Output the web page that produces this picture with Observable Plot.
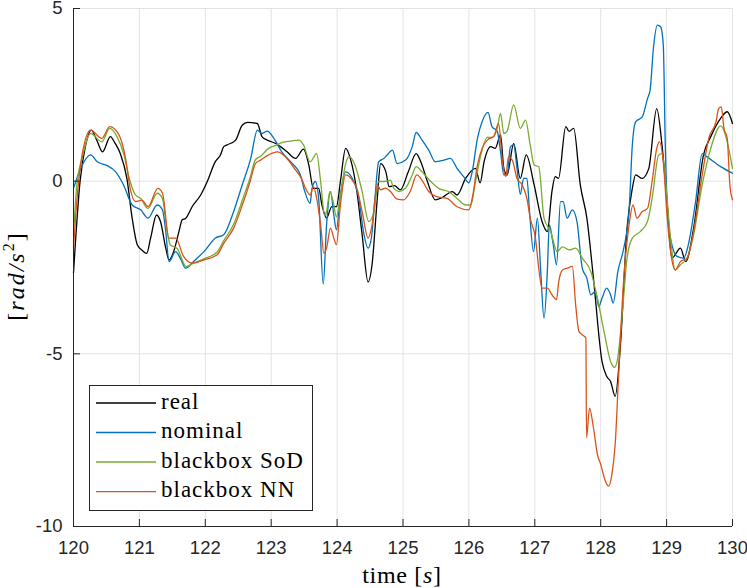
<!DOCTYPE html>
<html><head><meta charset="utf-8">
<script src="https://cdn.jsdelivr.net/npm/d3@7"></script>
<script src="https://cdn.jsdelivr.net/npm/@observablehq/plot@0.6"></script>
<style>
html,body{margin:0;padding:0;background:#fff;}
#wrap{width:747px;height:588px;}
.serif{font-family:"Liberation Serif","Times New Roman",serif !important;}
</style></head><body><div id="wrap"></div>
<script>
const xTicks = [120,121,122,123,124,125,126,127,128,129,130];
const yTicks = [-10,-5,0,5];
const seriesNames = ["real","nominal","blackbox SoD","blackbox NN"];
const seriesColors = ["#000000","#0072BD","#77AC30","#D95319"];

const tReal = [120.00,120.10,120.18,120.27,120.35,120.44,120.56,120.63,120.71,120.81,120.89,120.97,121.04,121.11,121.17,121.26,121.32,121.40,121.45,121.52,121.60,121.65,121.70,121.80,121.93,122.03,122.15,122.23,122.28,122.33,122.46,122.56,122.64,122.79,122.86,122.94,123.07,123.14,123.24,123.37,123.49,123.57,123.64,123.72,123.77,123.84,123.92,123.99,124.05,124.13,124.20,124.30,124.38,124.47,124.53,124.61,124.66,124.74,124.79,124.87,124.96,125.08,125.20,125.27,125.37,125.49,125.59,125.75,125.82,125.95,126.10,126.17,126.23,126.33,126.40,126.48,126.53,126.58,126.68,126.78,126.87,126.99,127.11,127.19,127.26,127.31,127.36,127.47,127.52,127.59,127.69,127.79,127.89,128.02,128.09,128.15,128.22,128.30,128.40,128.48,128.53,128.63,128.73,128.85,128.93,129.01,129.08,129.21,129.29,129.41,129.56,129.67,129.82,129.92,130.00];
const vReal = [-2.66,0.00,1.00,1.48,1.20,0.85,1.29,1.10,0.80,0.08,-1.07,-1.85,-2.00,-2.09,-1.65,-0.98,-1.17,-1.94,-2.28,-2.04,-1.46,-1.12,-1.08,-0.74,-0.40,-0.01,0.56,0.76,1.00,1.05,1.19,1.62,1.70,1.67,1.29,1.19,1.09,1.00,0.85,0.66,0.93,0.47,-0.21,-0.21,-0.69,-1.07,-0.74,-0.74,-0.01,0.95,0.66,-0.30,-1.55,-2.92,-2.42,-0.50,0.51,0.27,-0.16,-0.13,-0.25,0.27,0.80,0.56,-0.01,-0.54,-0.48,-0.30,-0.40,0.08,0.37,-0.05,0.56,1.00,0.95,1.34,0.37,0.18,1.09,0.08,0.76,-0.11,-1.17,-1.46,-0.30,0.13,0.08,1.58,1.44,1.53,-0.11,-1.07,-2.81,-5.22,-5.65,-5.80,-6.23,-4.73,-1.36,-0.21,0.18,0.08,0.37,2.10,1.05,-0.69,-2.23,-1.94,-2.33,-1.36,0.76,1.29,1.82,2.01,1.67];

const tNom = [120.00,120.11,120.26,120.36,120.51,120.64,120.76,120.89,121.02,121.13,121.27,121.35,121.40,121.45,121.55,121.62,121.70,121.83,121.98,122.15,122.28,122.43,122.56,122.69,122.79,122.86,122.94,123.04,123.16,123.32,123.44,123.51,123.59,123.62,123.67,123.72,123.79,123.84,123.90,123.95,123.99,124.05,124.13,124.23,124.33,124.40,124.47,124.52,124.57,124.63,124.71,124.76,124.84,124.91,125.04,125.14,125.20,125.29,125.39,125.49,125.62,125.72,125.82,125.92,126.00,126.05,126.13,126.20,126.29,126.35,126.43,126.48,126.53,126.58,126.63,126.68,126.73,126.78,126.83,126.88,126.92,126.98,127.04,127.09,127.14,127.19,127.22,127.28,127.33,127.39,127.43,127.49,127.57,127.64,127.72,127.79,127.85,127.92,127.97,128.02,128.09,128.15,128.19,128.26,128.35,128.43,128.48,128.53,128.63,128.71,128.75,128.80,128.86,128.91,128.95,128.98,129.02,129.08,129.16,129.26,129.33,129.44,129.54,129.61,129.82,130.00];
const vNom = [-0.21,0.37,0.76,0.56,0.45,0.27,-0.11,-0.69,-0.83,-1.07,-0.69,-0.83,-1.46,-2.33,-2.04,-2.23,-2.52,-2.31,-2.04,-1.65,-1.55,-0.88,-0.11,0.66,1.48,1.38,1.45,1.24,0.85,0.51,0.20,-0.30,-0.64,-0.21,-0.01,-0.50,-2.98,-1.27,-0.30,-0.98,-1.41,-0.40,0.27,0.08,-0.50,-1.46,-1.94,-1.65,-0.59,0.56,0.66,0.76,0.90,0.51,0.61,1.00,1.41,1.19,0.90,0.56,0.61,0.66,0.37,0.13,-0.05,0.27,1.24,1.72,1.99,1.58,1.45,0.85,0.18,0.18,1.00,1.05,0.37,-0.38,0.08,0.08,-0.88,-2.04,-1.07,-2.62,-3.97,-2.62,-1.27,-1.84,-2.42,-0.59,-0.59,-1.07,-0.83,-1.17,-2.52,-2.81,-3.29,-3.19,-3.63,-3.39,-3.10,-3.29,-3.53,-2.62,-1.94,-0.88,1.05,1.72,1.86,2.39,2.64,3.85,4.52,4.47,3.93,1.05,-1.07,-1.84,-2.18,-2.23,-1.84,-0.59,0.80,0.71,0.42,0.23];

const tSod = [120.00,120.05,120.13,120.26,120.43,120.55,120.66,120.76,120.86,120.94,121.02,121.13,121.27,121.35,121.42,121.47,121.57,121.71,121.83,121.98,122.18,122.28,122.43,122.58,122.68,122.76,122.84,122.96,123.09,123.14,123.29,123.42,123.49,123.59,123.69,123.75,123.81,123.84,123.89,123.94,123.99,124.05,124.13,124.18,124.28,124.38,124.48,124.56,124.63,124.71,124.76,124.81,124.86,124.94,125.04,125.14,125.20,125.29,125.42,125.54,125.69,125.82,125.95,126.03,126.10,126.18,126.28,126.35,126.43,126.48,126.53,126.58,126.68,126.78,126.86,126.93,126.99,127.06,127.14,127.24,127.34,127.42,127.52,127.62,127.72,127.85,127.95,128.05,128.15,128.21,128.26,128.33,128.40,128.48,128.60,128.71,128.78,128.88,128.93,128.98,129.06,129.13,129.21,129.31,129.41,129.54,129.67,129.82,129.92,130.00];
const vSod = [-1.55,-0.11,0.66,1.38,1.14,1.53,1.29,0.80,-0.01,-0.40,-0.50,-0.79,-0.35,-0.50,-1.46,-1.85,-1.94,-2.47,-2.37,-2.25,-2.05,-1.72,-1.25,-0.45,0.10,0.62,0.72,0.95,1.05,1.10,1.16,1.19,1.05,0.56,0.80,-0.01,-0.98,-0.88,-0.30,-0.59,-1.03,-0.40,0.51,0.71,0.42,-0.30,-1.17,-0.88,-0.01,-0.01,0.00,0.03,-0.21,-0.30,-0.20,0.18,0.42,0.27,-0.01,-0.21,-0.30,-0.50,-0.69,-0.69,-0.01,0.75,1.27,1.27,1.53,1.96,1.38,1.45,2.21,1.53,1.77,1.05,0.47,0.42,-1.07,-1.46,-2.04,-1.90,-1.99,-1.94,-2.23,-2.62,-3.39,-4.35,-5.22,-5.39,-5.10,-3.77,-2.23,-1.65,-1.46,-1.17,-0.50,0.76,0.80,0.08,-1.65,-2.57,-2.42,-2.23,-1.55,-0.11,0.95,1.60,1.14,0.37];

const tNn = [120.00,120.05,120.13,120.26,120.43,120.55,120.69,120.79,120.86,120.94,121.04,121.13,121.28,121.35,121.45,121.55,121.67,121.80,121.98,122.18,122.28,122.43,122.58,122.68,122.76,122.84,122.96,123.09,123.22,123.34,123.47,123.51,123.59,123.64,123.69,123.75,123.80,123.84,123.90,123.95,123.99,124.05,124.13,124.23,124.30,124.38,124.47,124.53,124.61,124.66,124.74,124.81,124.91,125.01,125.11,125.21,125.30,125.39,125.51,125.67,125.82,126.00,126.05,126.13,126.20,126.28,126.38,126.45,126.51,126.56,126.60,126.66,126.73,126.81,126.88,126.93,127.01,127.06,127.11,127.19,127.26,127.33,127.36,127.42,127.49,127.57,127.62,127.67,127.72,127.775,127.785,127.83,127.89,127.95,128.00,128.07,128.12,128.17,128.22,128.27,128.35,128.43,128.49,128.55,128.63,128.71,128.78,128.85,128.89,128.95,129.01,129.08,129.13,129.21,129.31,129.41,129.54,129.64,129.75,129.79,129.83,129.87,129.92,129.96,130.00];
const vNn = [-1.94,-0.59,0.76,1.48,1.24,1.58,1.34,0.66,-0.21,-0.59,-0.55,-0.74,-0.21,-0.35,-1.65,-1.65,-2.18,-2.37,-2.28,-2.13,-1.80,-1.36,-0.59,-0.01,0.51,0.61,0.76,0.85,0.70,0.40,0.03,-0.16,-0.40,-0.16,-0.50,-1.27,-2.09,-1.94,-1.36,-1.65,-1.84,-0.69,0.18,0.03,-0.21,-0.88,-1.65,-1.27,-0.11,-0.25,-0.20,-0.30,-0.52,-0.54,-0.30,0.18,-0.01,-0.30,-0.45,-0.50,-0.74,-0.83,-0.50,0.47,0.95,1.19,1.30,1.67,0.56,0.13,0.70,0.60,0.08,-0.11,-0.50,-1.07,-1.65,-2.52,-3.10,-3.10,-3.29,-3.43,-2.95,-2.57,-2.52,-2.47,-3.58,-4.35,-4.45,-4.54,-7.43,-6.57,-7.14,-7.91,-8.20,-8.68,-8.83,-8.49,-7.62,-5.70,-2.81,-1.27,-0.69,-1.07,-0.88,-0.79,-0.01,0.95,1.14,0.56,-1.07,-2.28,-2.57,-2.33,-2.23,-1.46,0.18,1.24,1.72,2.10,2.15,1.53,1.24,-0.11,-0.54];

const seriesT = [tReal, tNom, tSod, tNn];
const seriesV = [vReal, vNom, vSod, vNn];

const W = 747, H = 588, mL = 73, mR = 15, mT = 8, mB = 62;
const innerW = W - mL - mR, innerH = H - mT - mB;
const axisColor = "#262626";
const gridColor = "#e3e3e3";

const lineMarks = seriesNames.map((name, i) =>
  Plot.line(seriesT[i].map((t, j) => ({t, v: seriesV[i][j]})), {
    x: "t", y: "v", stroke: seriesColors[i], strokeWidth: 1.3, curve: "monotone-x"
  })
);

const chart = Plot.plot({
  width: W, height: H,
  marginLeft: mL, marginRight: mR, marginTop: mT, marginBottom: mB,
  style: {fontFamily: "'Liberation Sans', Arial, sans-serif", fontSize: "18.5px", color: axisColor, background: "#fff", overflow: "visible"},
  x: {domain: [120, 130]},
  y: {domain: [-10, 5]},
  marks: [
    Plot.gridX(xTicks, {stroke: gridColor, strokeOpacity: 1, strokeWidth: 1}),
    Plot.gridY(yTicks, {stroke: gridColor, strokeOpacity: 1, strokeWidth: 1}),
    ...lineMarks,
    Plot.ruleX([120], {stroke: axisColor, strokeWidth: 1}),
    Plot.ruleY([-10], {stroke: axisColor, strokeWidth: 1}),
    Plot.tickX(xTicks, {x: d => d, insetTop: innerH - 7, stroke: axisColor}),
    Plot.tickY(yTicks, {y: d => d, insetRight: innerW - 7, stroke: axisColor}),
    Plot.axisX(xTicks, {tickSize: 0, tickPadding: 14, label: null, tickFormat: d => String(d)}),
    Plot.axisY(yTicks, {tickSize: 0, tickPadding: 11, label: null, tickFormat: d => String(d)})
  ]
});

document.getElementById("wrap").appendChild(chart);

const svg = d3.select(chart);

// y label
const yl = svg.append("text").attr("class", "serif")
  .attr("transform", "translate(24,276) rotate(-90)")
  .attr("text-anchor", "middle")
  .style("font-size", "24px")
  .style("letter-spacing", "2px")
  .attr("fill", "#000");
yl.append("tspan").text("[");
yl.append("tspan").style("font-style", "italic").text("rad/s");
yl.append("tspan").style("font-size", "16px").attr("dy", -10).text("2");
yl.append("tspan").attr("dy", 10).text("]");

// x label
const xl = svg.append("text").attr("class", "serif")
  .attr("x", 402).attr("y", 582.5)
  .attr("text-anchor", "middle")
  .style("font-size", "24px")
  .style("letter-spacing", "0.7px")
  .attr("fill", "#000");
xl.append("tspan").text("time [");
xl.append("tspan").style("font-style", "italic").text("s");
xl.append("tspan").text("]");

// legend
const lg = svg.append("g");
lg.append("rect").attr("x", 89.5).attr("y", 385.5).attr("width", 223).attr("height", 125)
  .attr("fill", "#fff").attr("stroke", axisColor).attr("stroke-width", 1);
const rowY = [403, 432.5, 462, 491.7];
seriesNames.forEach((name, i) => {
  lg.append("line").attr("x1", 96).attr("x2", 156).attr("y1", rowY[i]).attr("y2", rowY[i])
    .attr("stroke", seriesColors[i]).attr("stroke-width", 1.3);
  lg.append("text").attr("class", "serif").attr("x", 161).attr("y", rowY[i] + 5.5)
    .attr("text-anchor", "start")
    .style("font-size", "23px").style("letter-spacing", "1px")
    .attr("fill", "#000").text(name);
});
</script>
</body></html>
